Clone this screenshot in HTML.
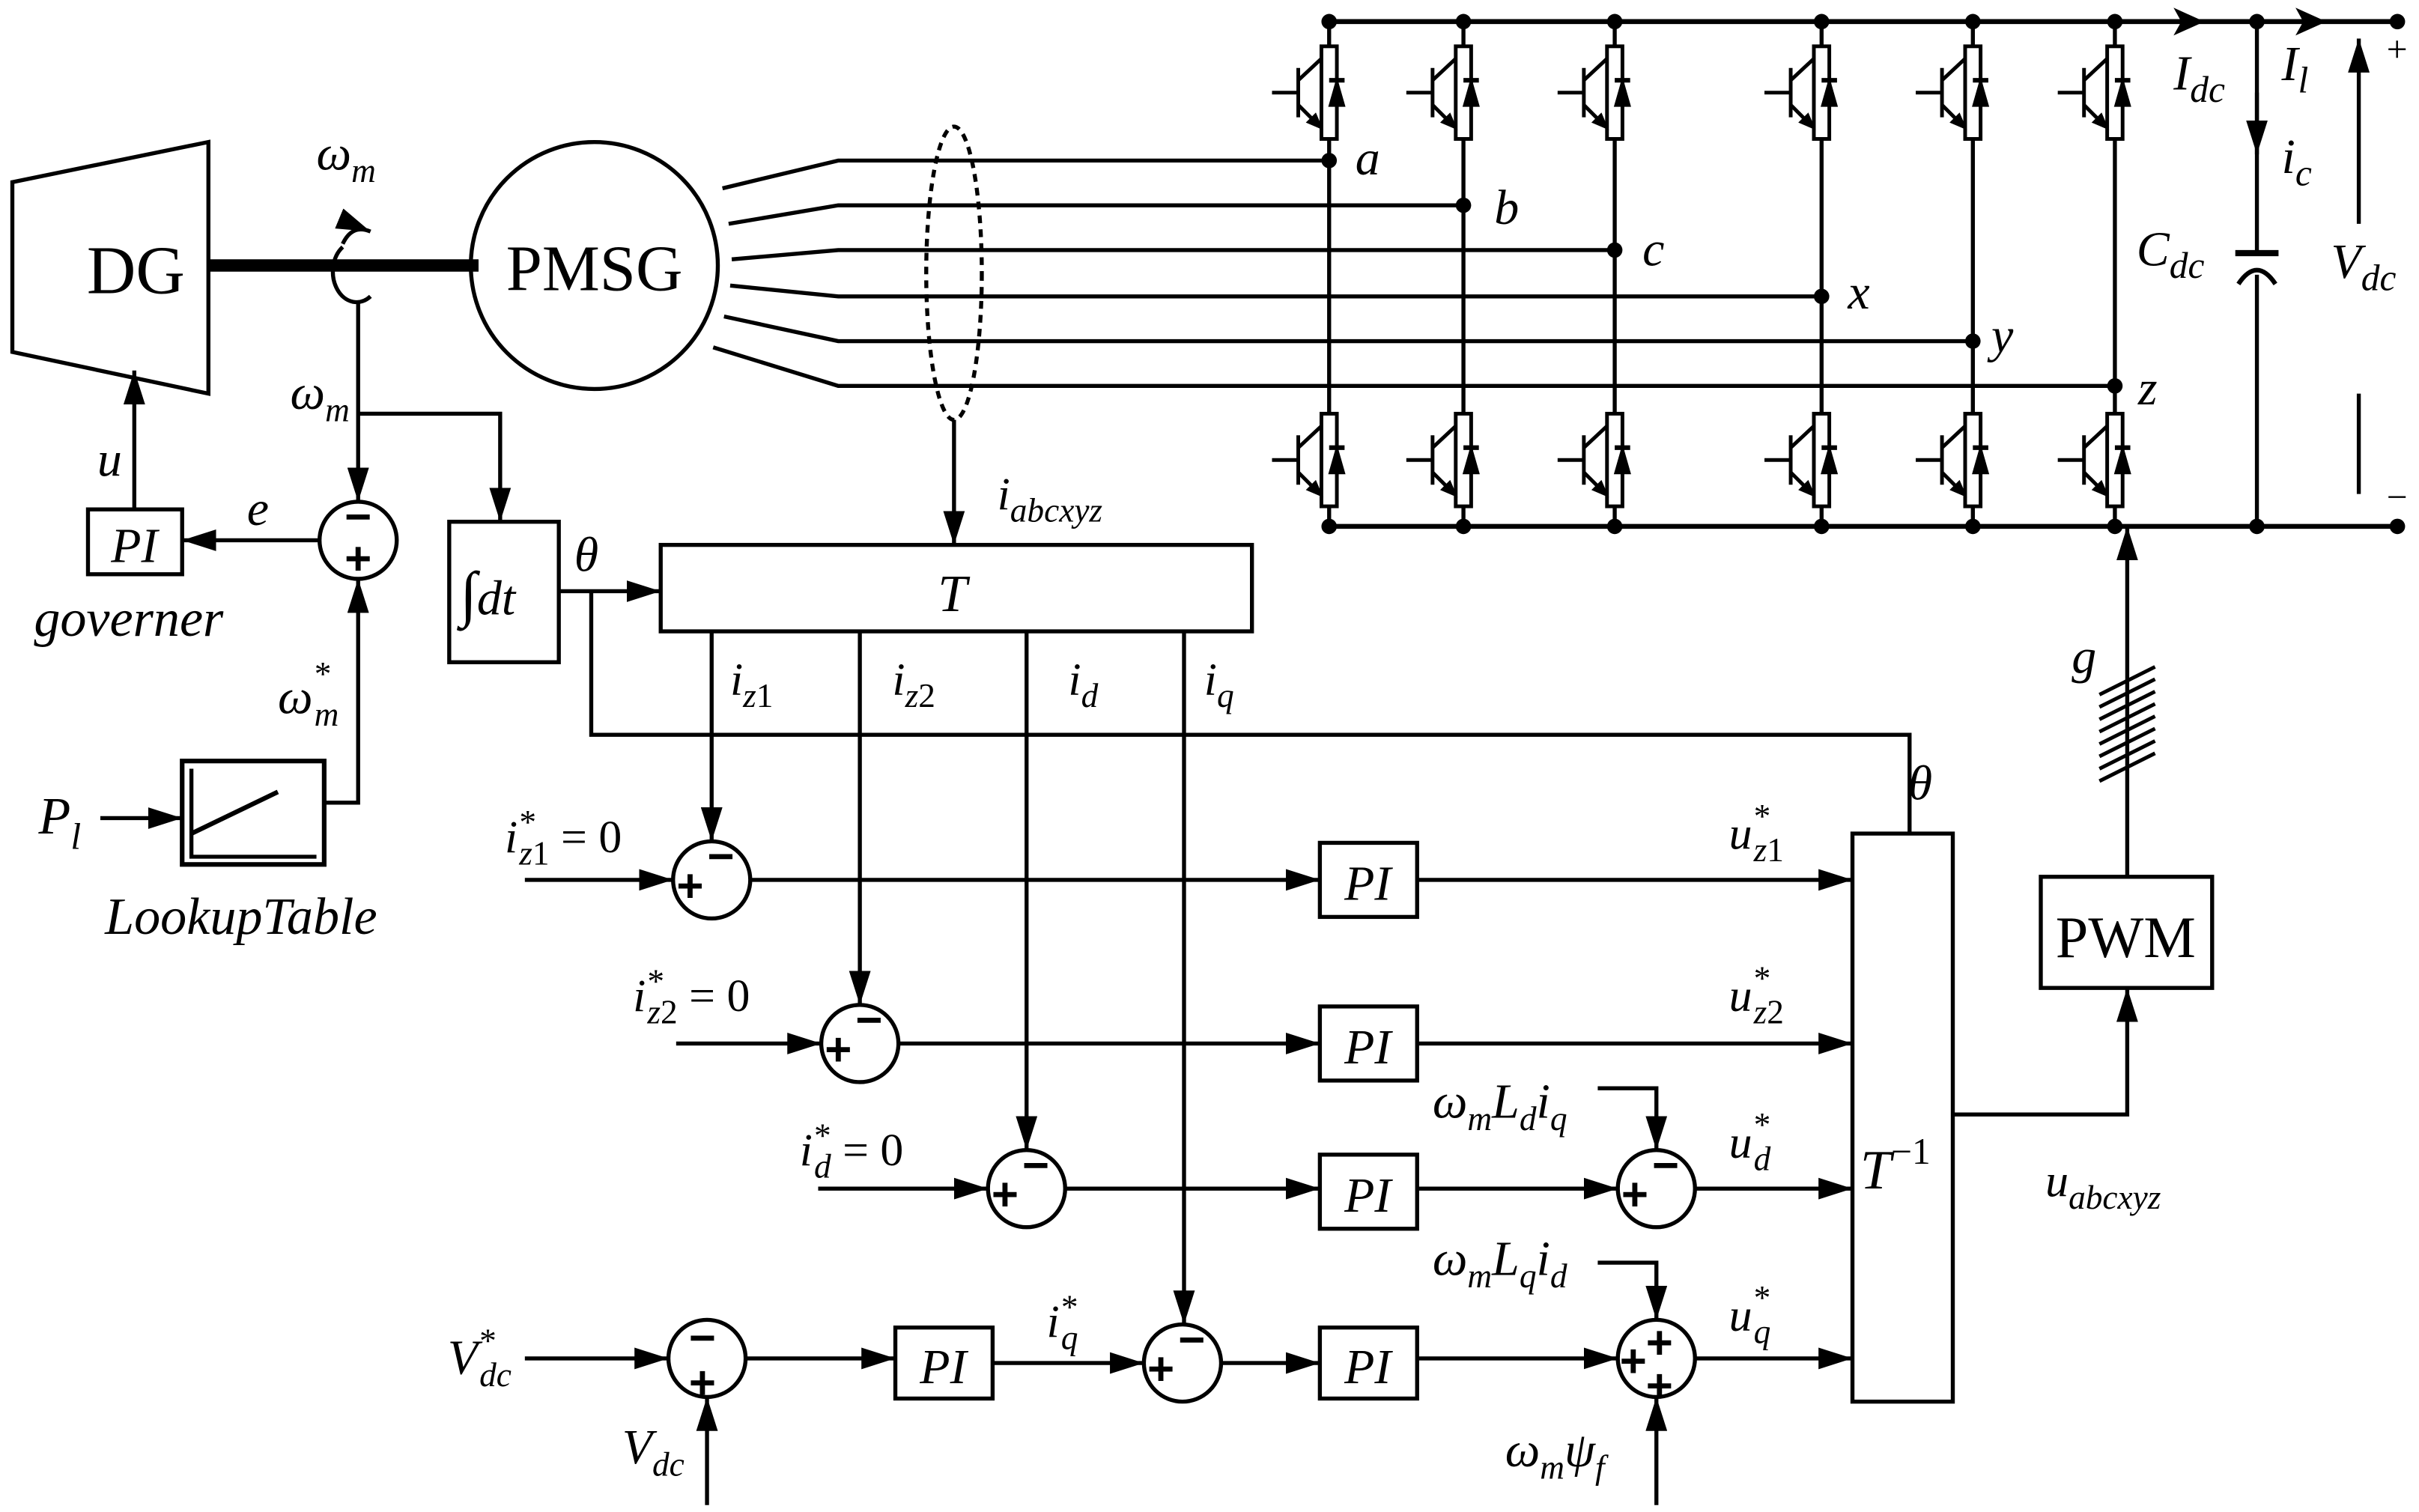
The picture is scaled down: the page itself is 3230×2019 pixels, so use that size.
<!DOCTYPE html>
<html><head><meta charset="utf-8"><style>
html,body{margin:0;padding:0;background:#fff;}
svg{display:block;}
text{font-family:"Liberation Serif",serif;font-style:italic;fill:#000;}
.s{font-family:"Liberation Sans",sans-serif;font-style:normal;font-weight:bold;}
</style></head><body>
<svg width="3230" height="2019" viewBox="0 0 1567 979.5" preserveAspectRatio="none" xmlns="http://www.w3.org/2000/svg">
<defs>
<marker id="ab" markerWidth="22" markerHeight="14" refX="22" refY="7" orient="auto" markerUnits="userSpaceOnUse"><path d="M0,0 L22,7 L0,14 Z" fill="#000"/></marker>
<g id="ig" stroke="#000" stroke-width="2.4" fill="none">
<rect x="-5" y="0" width="10" height="60" fill="#fff"/>
<line x1="-20" y1="14" x2="-20" y2="46"/>
<line x1="-37" y1="30" x2="-20" y2="30"/>
<line x1="-20" y1="22" x2="-5" y2="8"/>
<line x1="-20" y1="38" x2="-8" y2="50"/>
<path d="M-6,52 L-13,49 L-9,45 Z" fill="#000"/>
<path d="M1,38 L9,38 L5,24 Z" fill="#000"/>
<line x1="0" y1="22" x2="10" y2="22" stroke-width="3"/>
</g>
</defs>
<g stroke="#000" stroke-width="2.6" fill="none">
<path d="M8,118 L135,92 L135,255 L8,228 Z"/>
<line x1="135" y1="172" x2="310" y2="172" stroke-width="8"/>
<path d="M222,160 A14,18 0 1,0 240,192" />
<path d="M222,158 Q228,145 240,150" marker-end="url(#ab)"/>
<circle cx="385" cy="172" r="80"/>
<polyline points="468,122 543,104 861,104"/>
<polyline points="472,145 543,133 948,133"/>
<polyline points="474,168 543,162 1046,162"/>
<polyline points="473,185 543,192 1180,192"/>
<polyline points="469,205 543,221 1278,221"/>
<polyline points="462,225 543,250 1370,250"/>
<ellipse cx="618" cy="177" rx="18" ry="95" stroke-dasharray="5,4"/>
<line x1="618" y1="272" x2="618" y2="353" marker-end="url(#ab)"/>
<line x1="861" y1="14" x2="1553" y2="14" stroke-width="3.2"/>
<line x1="861" y1="341" x2="1553" y2="341" stroke-width="3.2"/>
<line x1="861" y1="14" x2="861" y2="341"/>
<line x1="948" y1="14" x2="948" y2="341"/>
<line x1="1046" y1="14" x2="1046" y2="341"/>
<line x1="1180" y1="14" x2="1180" y2="341"/>
<line x1="1278" y1="14" x2="1278" y2="341"/>
<line x1="1370" y1="14" x2="1370" y2="341"/>
<line x1="1462" y1="14" x2="1462" y2="163"/>
<line x1="1462" y1="178" x2="1462" y2="341"/>
<line x1="1448" y1="164" x2="1476" y2="164" stroke-width="4"/>
<path d="M1450,184 Q1462,166 1474,184" stroke-width="3"/>
<line x1="1462" y1="60" x2="1462" y2="100" marker-end="url(#ab)"/>
<line x1="1528" y1="145" x2="1528" y2="25" marker-end="url(#ab)"/>
<line x1="1528" y1="255" x2="1528" y2="320"/>
<rect x="428" y="353" width="383" height="56"/>
<rect x="291" y="338" width="71" height="91"/>
<polyline points="232,195 232,325" marker-end="url(#ab)"/>
<polyline points="232,268 324,268 324,338" marker-end="url(#ab)"/>
<circle cx="232" cy="350" r="25"/>
<line x1="207" y1="350" x2="118" y2="350" marker-end="url(#ab)"/>
<rect x="57" y="330" width="61" height="42"/>
<line x1="87" y1="330" x2="87" y2="240" marker-end="url(#ab)"/>
<rect x="118" y="493" width="92" height="67" stroke-width="3"/>
<polyline points="124,498 124,555 205,555" stroke-width="2.6"/>
<line x1="124" y1="540" x2="180" y2="513" stroke-width="3"/>
<polyline points="210,520 232,520 232,375" marker-end="url(#ab)"/>
<line x1="65" y1="530" x2="118" y2="530" marker-end="url(#ab)"/>
<line x1="362" y1="383" x2="428" y2="383" marker-end="url(#ab)"/>
<polyline points="383,383 383,476 1237,476 1237,540"/>
<line x1="461" y1="409" x2="461" y2="545" marker-end="url(#ab)"/>
<line x1="557" y1="409" x2="557" y2="651" marker-end="url(#ab)"/>
<line x1="665" y1="409" x2="665" y2="745" marker-end="url(#ab)"/>
<line x1="767" y1="409" x2="767" y2="858" marker-end="url(#ab)"/>
<line x1="340" y1="570" x2="436" y2="570" marker-end="url(#ab)"/>
<circle cx="461" cy="570" r="25"/>
<line x1="486" y1="570" x2="855" y2="570" marker-end="url(#ab)"/>
<rect x="855" y="546" width="63" height="48"/>
<line x1="918" y1="570" x2="1200" y2="570" marker-end="url(#ab)"/>
<line x1="438" y1="676" x2="532" y2="676" marker-end="url(#ab)"/>
<circle cx="557" cy="676" r="25"/>
<line x1="582" y1="676" x2="855" y2="676" marker-end="url(#ab)"/>
<rect x="855" y="652" width="63" height="48"/>
<line x1="918" y1="676" x2="1200" y2="676" marker-end="url(#ab)"/>
<line x1="530" y1="770" x2="640" y2="770" marker-end="url(#ab)"/>
<circle cx="665" cy="770" r="25"/>
<line x1="690" y1="770" x2="855" y2="770" marker-end="url(#ab)"/>
<rect x="855" y="748" width="63" height="48"/>
<line x1="918" y1="770" x2="1048" y2="770" marker-end="url(#ab)"/>
<circle cx="1073" cy="770" r="25"/>
<line x1="1098" y1="770" x2="1200" y2="770" marker-end="url(#ab)"/>
<polyline points="1035,705 1073,705 1073,745" marker-end="url(#ab)"/>
<line x1="340" y1="880" x2="433" y2="880" marker-end="url(#ab)"/>
<circle cx="458" cy="880" r="25"/>
<line x1="458" y1="975" x2="458" y2="905" marker-end="url(#ab)"/>
<line x1="483" y1="880" x2="580" y2="880" marker-end="url(#ab)"/>
<rect x="580" y="860" width="63" height="46"/>
<line x1="643" y1="883" x2="741" y2="883" marker-end="url(#ab)"/>
<circle cx="766" cy="883" r="25"/>
<line x1="791" y1="883" x2="855" y2="883" marker-end="url(#ab)"/>
<rect x="855" y="860" width="63" height="46"/>
<line x1="918" y1="880" x2="1048" y2="880" marker-end="url(#ab)"/>
<circle cx="1073" cy="880" r="25"/>
<line x1="1098" y1="880" x2="1200" y2="880" marker-end="url(#ab)"/>
<polyline points="1035,818 1073,818 1073,855" marker-end="url(#ab)"/>
<line x1="1073" y1="975" x2="1073" y2="905" marker-end="url(#ab)"/>
<rect x="1200" y="540" width="65" height="368"/>
<polyline points="1265,722 1378,722 1378,640" marker-end="url(#ab)"/>
<rect x="1322" y="568" width="111" height="72"/>
<line x1="1378" y1="568" x2="1378" y2="341" marker-end="url(#ab)"/>
<g stroke-width="2.4"><line x1="1360" y1="450" x2="1396" y2="432"/><line x1="1360" y1="458" x2="1396" y2="440"/><line x1="1360" y1="466" x2="1396" y2="448"/><line x1="1360" y1="474" x2="1396" y2="456"/><line x1="1360" y1="482" x2="1396" y2="464"/><line x1="1360" y1="490" x2="1396" y2="472"/><line x1="1360" y1="498" x2="1396" y2="480"/><line x1="1360" y1="506" x2="1396" y2="488"/></g>
</g>
<use href="#ig" x="861" y="30"/><use href="#ig" x="948" y="30"/><use href="#ig" x="1046" y="30"/><use href="#ig" x="1180" y="30"/><use href="#ig" x="1278" y="30"/><use href="#ig" x="1370" y="30"/>
<use href="#ig" x="861" y="268"/><use href="#ig" x="948" y="268"/><use href="#ig" x="1046" y="268"/><use href="#ig" x="1180" y="268"/><use href="#ig" x="1278" y="268"/><use href="#ig" x="1370" y="268"/>
<path d="M1408,5 L1428,14 L1408,23 L1413,14 Z" fill="#000"/>
<path d="M1487,5 L1507,14 L1487,23 L1492,14 Z" fill="#000"/>
<g fill="#000">
<circle cx="861" cy="14" r="5"/><circle cx="948" cy="14" r="5"/><circle cx="1046" cy="14" r="5"/><circle cx="1180" cy="14" r="5"/><circle cx="1278" cy="14" r="5"/><circle cx="1370" cy="14" r="5"/><circle cx="1462" cy="14" r="5"/><circle cx="1553" cy="14" r="5"/>
<circle cx="861" cy="341" r="5"/><circle cx="948" cy="341" r="5"/><circle cx="1046" cy="341" r="5"/><circle cx="1180" cy="341" r="5"/><circle cx="1278" cy="341" r="5"/><circle cx="1370" cy="341" r="5"/><circle cx="1462" cy="341" r="5"/><circle cx="1553" cy="341" r="5"/>
<circle cx="861" cy="104" r="5"/><circle cx="948" cy="133" r="5"/><circle cx="1046" cy="162" r="5"/><circle cx="1180" cy="192" r="5"/><circle cx="1278" cy="221" r="5"/><circle cx="1370" cy="250" r="5"/>
</g>
<g font-size="30" class="s" text-anchor="middle">
<text x="232" y="345" class="s">−</text><text x="232" y="372" class="s">+</text>
<text x="467" y="565" class="s">−</text><text x="447" y="584" class="s">+</text>
<text x="563" y="671" class="s">−</text><text x="543" y="690" class="s">+</text>
<text x="671" y="765" class="s">−</text><text x="651" y="784" class="s">+</text>
<text x="1079" y="765" class="s">−</text><text x="1059" y="784" class="s">+</text>
<text x="455" y="877" class="s">−</text><text x="455" y="906" class="s">+</text>
<text x="772" y="878" class="s">−</text><text x="752" y="897" class="s">+</text>
<text x="1075" y="880" class="s">+</text><text x="1058" y="892" class="s">+</text><text x="1075" y="908" class="s">+</text>
</g>
<text x="88" y="190" font-size="44" text-anchor="middle" style="font-style:normal">DG</text>
<text x="385" y="188" font-size="42" text-anchor="middle" style="font-style:normal">PMSG</text>
<text x="205" y="110" font-size="32">ω<tspan font-size="22" dy="8">m</tspan></text>
<text x="188" y="265" font-size="32">ω<tspan font-size="22" dy="8">m</tspan></text>
<text x="180" y="462" font-size="32">ω<tspan font-size="22" dy="-18">*</tspan><tspan font-size="22" dx="-10" dy="26">m</tspan></text>
<text x="63" y="308" font-size="32">u</text>
<text x="160" y="340" font-size="32">e</text>
<text x="87" y="364" font-size="32" text-anchor="middle">PI</text>
<text x="22" y="412" font-size="34">governer</text>
<text x="25" y="540" font-size="34">P<tspan font-size="24" dy="10">l</tspan></text>
<text x="68" y="605" font-size="34">LookupTable</text>
<text x="298" y="398" font-size="40">∫<tspan font-size="32">dt</tspan></text>
<text x="372" y="370" font-size="32">θ</text>
<text x="1236" y="518" font-size="32">θ</text>
<text x="617" y="396" font-size="34" text-anchor="middle">T</text>
<text x="646" y="330" font-size="30">i<tspan font-size="22" dy="8">abcxyz</tspan></text>
<text x="473" y="450" font-size="30">i<tspan font-size="22" dy="8">z</tspan><tspan font-size="22" style="font-style:normal">1</tspan></text>
<text x="578" y="450" font-size="30">i<tspan font-size="22" dy="8">z</tspan><tspan font-size="22" style="font-style:normal">2</tspan></text>
<text x="692" y="450" font-size="30">i<tspan font-size="22" dy="8">d</tspan></text>
<text x="780" y="450" font-size="30">i<tspan font-size="22" dy="8">q</tspan></text>
<text x="327" y="552" font-size="30">i<tspan font-size="22" dy="-12">*</tspan><tspan font-size="22" dx="-10" dy="20">z</tspan><tspan font-size="22" style="font-style:normal">1</tspan><tspan dy="-8" style="font-style:normal"> = 0</tspan></text>
<text x="410" y="655" font-size="30">i<tspan font-size="22" dy="-12">*</tspan><tspan font-size="22" dx="-10" dy="20">z</tspan><tspan font-size="22" style="font-style:normal">2</tspan><tspan dy="-8" style="font-style:normal"> = 0</tspan></text>
<text x="518" y="755" font-size="30">i<tspan font-size="22" dy="-12">*</tspan><tspan font-size="22" dx="-10" dy="20">d</tspan><tspan dy="-8" style="font-style:normal"> = 0</tspan></text>
<text x="290" y="890" font-size="32">V<tspan font-size="22" dy="-14">*</tspan><tspan font-size="22" dx="-10" dy="22">dc</tspan></text>
<text x="403" y="948" font-size="32">V<tspan font-size="22" dy="8">dc</tspan></text>
<text x="678" y="866" font-size="30">i<tspan font-size="22" dy="-12">*</tspan><tspan font-size="22" dx="-10" dy="20">q</tspan></text>
<text x="611" y="896" font-size="32" text-anchor="middle">PI</text>
<text x="886" y="583" font-size="32" text-anchor="middle">PI</text>
<text x="886" y="689" font-size="32" text-anchor="middle">PI</text>
<text x="886" y="785" font-size="32" text-anchor="middle">PI</text>
<text x="886" y="896" font-size="32" text-anchor="middle">PI</text>
<text x="1120" y="550" font-size="30">u<tspan font-size="22" dy="-14">*</tspan><tspan font-size="22" dx="-10" dy="22">z</tspan><tspan font-size="22" style="font-style:normal">1</tspan></text>
<text x="1120" y="655" font-size="30">u<tspan font-size="22" dy="-14">*</tspan><tspan font-size="22" dx="-10" dy="22">z</tspan><tspan font-size="22" style="font-style:normal">2</tspan></text>
<text x="1120" y="750" font-size="30">u<tspan font-size="22" dy="-14">*</tspan><tspan font-size="22" dx="-10" dy="22">d</tspan></text>
<text x="1120" y="862" font-size="30">u<tspan font-size="22" dy="-14">*</tspan><tspan font-size="22" dx="-10" dy="22">q</tspan></text>
<text x="928" y="724" font-size="32">ω<tspan font-size="22" dy="8">m</tspan><tspan dy="-8">L</tspan><tspan font-size="22" dy="8">d</tspan><tspan dy="-8">i</tspan><tspan font-size="22" dy="8">q</tspan></text>
<text x="928" y="826" font-size="32">ω<tspan font-size="22" dy="8">m</tspan><tspan dy="-8">L</tspan><tspan font-size="22" dy="8">q</tspan><tspan dy="-8">i</tspan><tspan font-size="22" dy="8">d</tspan></text>
<text x="975" y="950" font-size="32">ω<tspan font-size="22" dy="8">m</tspan><tspan dy="-8">ψ</tspan><tspan font-size="22" dy="8">f</tspan></text>
<text x="1205" y="770" font-size="36">T<tspan font-size="24" dy="-16" style="font-style:normal">−1</tspan></text>
<text x="1377" y="620" font-size="38" text-anchor="middle" style="font-style:normal">PWM</text>
<text x="1325" y="775" font-size="30">u<tspan font-size="22" dy="8">abcxyz</tspan></text>
<text x="1342" y="436" font-size="32">g</text>
<text x="878" y="113" font-size="32">a</text>
<text x="968" y="145" font-size="32">b</text>
<text x="1064" y="172" font-size="32">c</text>
<text x="1197" y="200" font-size="32">x</text>
<text x="1290" y="228" font-size="32">y</text>
<text x="1385" y="262" font-size="32">z</text>
<text x="1408" y="58" font-size="32">I<tspan font-size="24" dy="8">dc</tspan></text>
<text x="1478" y="52" font-size="32">I<tspan font-size="24" dy="8">l</tspan></text>
<text x="1478" y="112" font-size="32">i<tspan font-size="24" dy="8">c</tspan></text>
<text x="1384" y="172" font-size="32">C<tspan font-size="24" dy="8">dc</tspan></text>
<text x="1510" y="180" font-size="32">V<tspan font-size="24" dy="8">dc</tspan></text>
<text x="1546" y="40" font-size="24" style="font-style:normal">+</text>
<text x="1546" y="330" font-size="24" style="font-style:normal">−</text>
</svg>
</body></html>
